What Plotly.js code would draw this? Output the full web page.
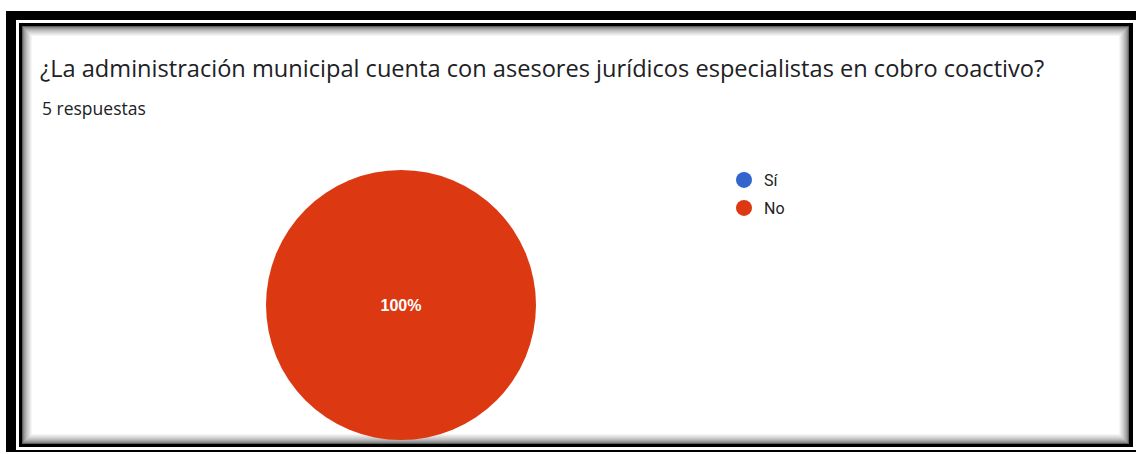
<!DOCTYPE html>
<html>
<head>
<meta charset="utf-8">
<script src="https://cdn.plot.ly/plotly-3.0.1.min.js"></script>
<style>
  html, body { margin: 0; padding: 0; background: #fff; }
  #chart { width: 1136px; height: 454px; }
</style>
</head>
<body>
<div id="chart"></div>
<script>
// ---- data ----
const titleText = "¿La administración municipal cuenta con asesores jurídicos especialistas en cobro coactivo?";
const subtitleText = "5 respuestas";
const categories = ["Sí", "No"];
const responses = [0, 5];
const sliceColors = ["#3366CC", "#DC3912"];

// ---- helpers (pixel -> paper, margins are 0) ----
const W = 1136, H = 454;
const px = v => v / W;
const py = v => 1 - v / H;

function rect(x0, y0, x1, y1, color) {
  return { type: "rect", xref: "paper", yref: "paper", layer: "below",
           x0: px(x0), x1: px(x1), y0: py(y1), y1: py(y0),
           fillcolor: color, line: { width: 0 } };
}

const shapes = [
  rect(6, 11, 1136, 452, "#000000"),
  rect(16, 20, 1136, 450, "#ffffff"),
  rect(19, 23, 1133, 447, "#000000"),
];
// inner shadow
const steps = 11;
for (let i = 0; i < steps; i++) {
  const g = Math.round(0x60 + (0xff - 0x60) * Math.pow(i / (steps - 1), 0.6));
  const hex = g.toString(16).padStart(2, "0");
  shapes.push(rect(22 + i, 26 + i, 1129 - i, 444 - i, "#" + hex + hex + hex));
}

// ---- traces ----
const pieTrace = {
  type: "pie",
  labels: categories,
  values: responses,
  marker: { colors: sliceColors, line: { width: 0 } },
  sort: false,
  direction: "clockwise",
  textinfo: "percent",
  texttemplate: "%{percent:.0%}",
  textposition: "inside",
  insidetextfont: { color: "#ffffff", size: 16, weight: "bold", family: "Liberation Sans, Arial, sans-serif" },
  showlegend: false,
  hoverinfo: "label+percent",
  domain: { x: [px(401 - 135), px(401 + 135)], y: [py(305 + 135), py(305 - 135)] }
};

const legendTraces = categories.map((c, i) => ({
  type: "scatter",
  mode: "markers",
  x: [null], y: [null],
  name: c,
  marker: { color: sliceColors[i], size: 16, symbol: "circle" },
  legend: i === 0 ? "legend" : "legend2",
  hoverinfo: "skip"
}));

const legendCommon = {
  xref: "paper", yref: "paper",
  xanchor: "left", yanchor: "middle",
  bgcolor: "rgba(0,0,0,0)",
  font: { family: "Roboto, Arial, sans-serif", size: 16, color: "#222222" },
  itemclick: false, itemdoubleclick: false
};

const layout = {
  width: W, height: H,
  margin: { l: 0, r: 0, t: 0, b: 0 },
  paper_bgcolor: "#ffffff",
  plot_bgcolor: "rgba(0,0,0,0)",
  title: {
    text: titleText,
    x: px(40), xref: "paper", xanchor: "left",
    y: py(69), yref: "paper", yanchor: "middle",
    font: { family: "Open Sans, Roboto, sans-serif", size: 23.6, color: "#202124" }
  },
  annotations: [{
    text: subtitleText, showarrow: false,
    xref: "paper", yref: "paper",
    x: px(40), xanchor: "left",
    y: py(108), yanchor: "middle",
    font: { family: "Open Sans, Roboto, sans-serif", size: 17.5, color: "#202124" }
  }],
  xaxis: { visible: false },
  yaxis: { visible: false },
  legend: Object.assign({}, legendCommon, { x: px(724), y: py(180) }),
  legend2: Object.assign({}, legendCommon, { x: px(724), y: py(208) }),
  shapes: shapes
};

Plotly.newPlot("chart", [pieTrace].concat(legendTraces), layout, { displayModeBar: false, staticPlot: true });
</script>
</body>
</html>
